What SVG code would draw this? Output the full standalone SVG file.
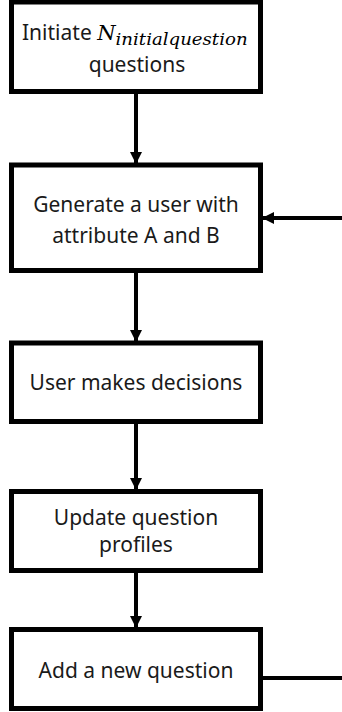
<svg xmlns="http://www.w3.org/2000/svg" width="342" height="712" viewBox="0 0 342 712">
  <style>
    .box { fill: #ffffff; stroke: #000000; stroke-width: 5; }
    .label { font-family: "Noto Sans", "Liberation Sans", sans-serif; font-size: 21px; fill: #1a1a1a; text-anchor: middle; }
    .lead { text-anchor: start; }
    .math { font-family: "DejaVu Serif", "Liberation Serif", serif; font-style: italic; fill: #000000; }
    .edge { stroke: #000000; stroke-width: 4; fill: none; }
  </style>
  <defs>
    <marker id="arrow" markerUnits="userSpaceOnUse" markerWidth="14" markerHeight="12" refX="12" refY="6" orient="auto">
      <path d="M0,0 L12,6 L0,12 Z" fill="#000000"/>
    </marker>
  </defs>
  <rect width="342" height="712" fill="#ffffff"/>

  <g id="connectors">
    <line class="edge" x1="136" y1="94" x2="136" y2="164" marker-end="url(#arrow)"/>
    <line class="edge" x1="136" y1="273" x2="136" y2="342" marker-end="url(#arrow)"/>
    <line class="edge" x1="136" y1="424" x2="136" y2="490" marker-end="url(#arrow)"/>
    <line class="edge" x1="136" y1="573" x2="136" y2="628" marker-end="url(#arrow)"/>
    <line class="edge" x1="263" y1="678" x2="342" y2="678"/>
    <line class="edge" x1="342" y1="218" x2="262" y2="218" marker-end="url(#arrow)"/>
  </g>

  <g id="initiate">
    <rect class="box" x="11.5" y="2" width="249" height="89.5"/>
    <text class="label lead" x="22" y="40">Initiate <tspan class="math" font-size="21">N</tspan><tspan class="math" font-size="16" dy="5" textLength="132" lengthAdjust="spacingAndGlyphs">initialquestion</tspan></text>
    <text class="label" x="137" y="72">questions</text>
  </g>

  <g id="generate">
    <rect class="box" x="11.5" y="165" width="249" height="105.5"/>
    <text class="label" x="136" y="212">Generate a user with</text>
    <text class="label" x="136" y="243">attribute A and B</text>
  </g>

  <g id="decide">
    <rect class="box" x="11.5" y="343" width="249" height="78.5"/>
    <text class="label" x="136" y="390">User makes decisions</text>
  </g>

  <g id="update">
    <rect class="box" x="11.5" y="491.5" width="249" height="79"/>
    <text class="label" x="136" y="525">Update question</text>
    <text class="label" x="136" y="552">profiles</text>
  </g>

  <g id="add">
    <rect class="box" x="11.5" y="629.5" width="249" height="79"/>
    <text class="label" x="136" y="678">Add a new question</text>
  </g>
</svg>
